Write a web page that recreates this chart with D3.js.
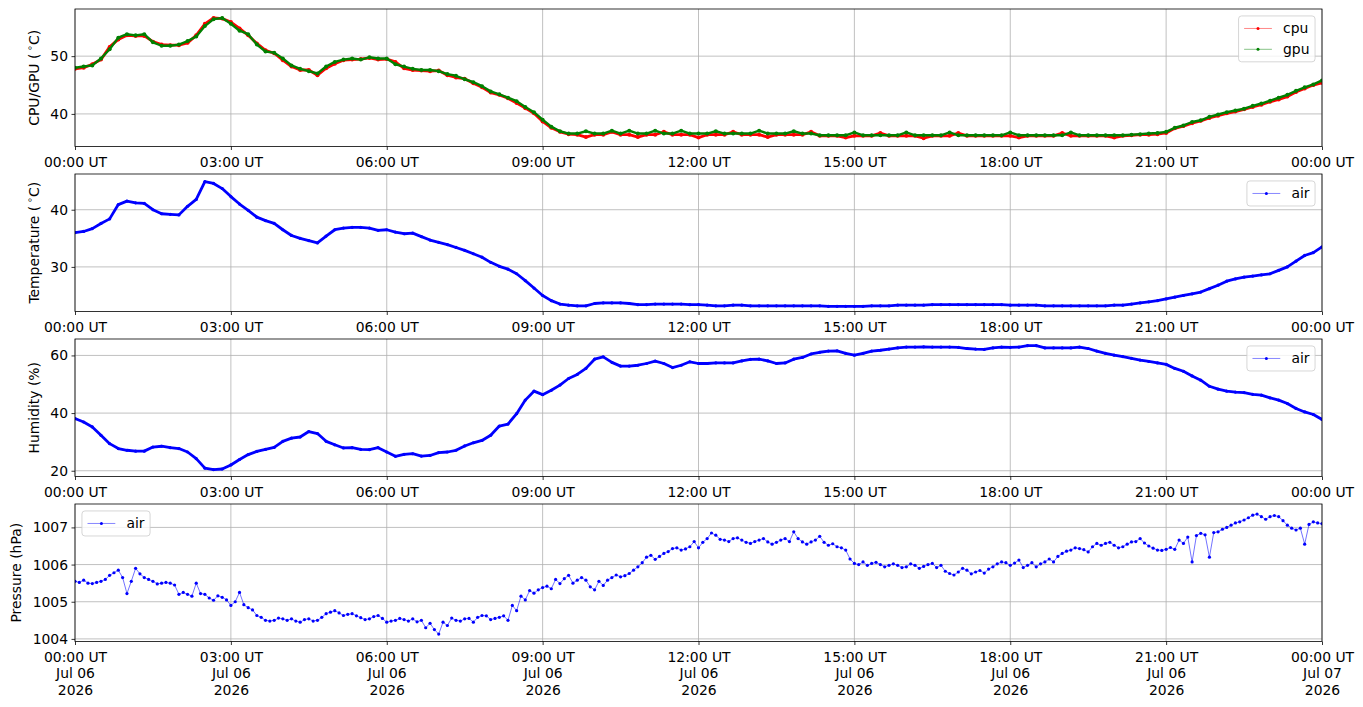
<!DOCTYPE html>
<html>
<head>
<meta charset="utf-8">
<title>sensor log</title>
<script src="https://d3js.org/d3.v7.min.js"></script>
<style>
  body { margin: 0; overflow: hidden; background: #fff; }
  svg text { font-family: "DejaVu Sans", sans-serif; fill: #000; }
</style>
</head>
<body>
<svg></svg>
<script>
// one reading every 10 minutes, 06 Jul 2026 00:00 UT -> 07 Jul 2026 00:00 UT
const startTime = Date.UTC(2026, 6, 6, 0, 0);
const endTime = Date.UTC(2026, 6, 7, 0, 0);
const stepMinutes = 10;

const cpuTemp = [
  47.8, 48.0, 48.6, 49.4, 51.6, 52.9, 53.6, 53.5, 53.5, 52.5,
  52.0, 51.9, 51.9, 52.3, 53.6, 55.6, 56.6, 56.5, 55.9, 54.8,
  53.6, 52.2, 51.0, 50.5, 49.3, 48.2, 47.6, 47.6, 46.7, 47.9,
  48.7, 49.3, 49.4, 49.5, 49.7, 49.4, 49.5, 49.0, 47.9, 47.6,
  47.5, 47.4, 47.5, 46.7, 46.3, 46.1, 45.3, 44.6, 43.7, 43.3,
  42.7, 41.9, 41.0, 40.1, 38.7, 37.6, 36.9,
  36.5, 36.4, 36.0, 36.4, 36.4, 36.9, 36.4, 36.4, 36.0, 36.4,
  36.4, 36.9, 36.4, 36.4, 36.4, 35.9, 36.4, 36.4, 36.4, 36.9,
  36.4, 36.4, 36.4, 36.0, 36.4, 36.4, 36.4, 36.4, 36.9, 36.2,
  36.2, 36.2, 35.9, 36.2, 36.2, 36.2, 36.7, 36.2, 36.2, 36.2,
  36.2, 35.8, 36.2, 36.2, 36.2, 36.7, 36.2, 36.2, 36.2, 36.2,
  36.2, 36.2, 35.9, 36.2, 36.2, 36.2, 36.2, 36.7, 36.2, 36.2,
  36.2, 36.2, 36.2, 35.9, 36.2, 36.3, 36.4, 36.4, 36.5,
  36.7, 37.5, 37.9, 38.4, 38.8, 39.3, 39.7, 40.1, 40.4, 40.8,
  41.2, 41.6, 42.1, 42.5, 43.0, 43.8, 44.4, 45.0, 45.4
];
const gpuTemp = [
  48.0, 48.2, 48.4, 49.6, 51.2, 53.2, 53.8, 53.6, 53.8, 52.4,
  51.8, 51.8, 52.0, 52.6, 53.4, 55.2, 56.4, 56.6, 55.6, 54.4,
  53.8, 52.0, 50.8, 50.6, 49.6, 48.4, 47.8, 47.4, 47.0, 48.2,
  49.0, 49.4, 49.6, 49.4, 49.8, 49.6, 49.6, 48.6, 48.2, 47.8,
  47.6, 47.6, 47.4, 46.9, 46.6, 46.0, 45.5, 44.8, 43.9, 43.4,
  42.8, 42.2, 41.2, 40.3, 39.0, 37.8, 37.0,
  36.6, 36.6, 37.0, 36.6, 36.6, 37.1, 36.6, 37.1, 36.6, 36.6,
  37.1, 36.6, 36.6, 37.1, 36.6, 36.6, 36.6, 37.0, 36.6, 36.6,
  36.6, 36.6, 37.1, 36.6, 36.6, 36.6, 37.0, 36.6, 36.6, 36.3,
  36.3, 36.3, 36.3, 36.8, 36.3, 36.3, 36.3, 36.3, 36.3, 36.8,
  36.3, 36.3, 36.3, 36.3, 36.8, 36.3, 36.3, 36.3, 36.3, 36.3,
  36.3, 36.8, 36.3, 36.3, 36.3, 36.3, 36.3, 36.3, 36.8, 36.3,
  36.3, 36.3, 36.3, 36.3, 36.3, 36.4, 36.5, 36.6, 36.7,
  36.9, 37.6, 38.0, 38.6, 38.9, 39.5, 39.9, 40.3, 40.6, 40.9,
  41.4, 41.8, 42.3, 42.8, 43.3, 44.0, 44.6, 45.1, 45.8
];
const airTemp = [
  36.0, 36.2, 36.7, 37.6, 38.4, 40.9, 41.5, 41.2, 41.1, 40.0,
  39.3, 39.2, 39.1, 40.6, 41.8, 44.9,
  44.6, 43.7, 42.3, 41.0, 39.9, 38.7, 38.1, 37.6, 36.5, 35.5,
  35.0, 34.6, 34.2, 35.4, 36.5, 36.8, 36.9, 36.9, 36.8, 36.4,
  36.5, 36.1, 35.8, 35.9, 35.3, 34.7, 34.3, 33.9, 33.4, 32.9,
  32.3, 31.7, 30.8, 30.1, 29.6, 28.8, 27.6, 26.3, 25.0, 24.1, 23.5,
  23.3, 23.2, 23.2, 23.6, 23.7, 23.7, 23.7, 23.6, 23.4, 23.4,
  23.5, 23.5, 23.5, 23.5, 23.4, 23.4, 23.3, 23.2, 23.2, 23.3,
  23.3, 23.2, 23.2, 23.2, 23.2, 23.2, 23.2, 23.2, 23.2, 23.2,
  23.1, 23.1, 23.1, 23.1, 23.1, 23.2, 23.2, 23.2, 23.3, 23.3,
  23.3, 23.3, 23.4, 23.4, 23.4, 23.4, 23.4, 23.4, 23.4, 23.4,
  23.4, 23.3, 23.3, 23.3, 23.3, 23.2, 23.2, 23.2, 23.2, 23.2,
  23.2, 23.2, 23.2, 23.3, 23.3, 23.5, 23.7, 23.9, 24.1,
  24.4, 24.7, 25.0, 25.3, 25.6, 26.2, 26.8, 27.5, 27.9, 28.2,
  28.4, 28.6, 28.8, 29.4, 30.0, 31.0, 32.0, 32.5, 33.5
];
const airHumidity = [
  38.1, 36.9, 35.2, 32.3, 29.4, 27.7, 27.1, 26.8, 26.8, 28.2,
  28.5, 28.0, 27.7, 26.5, 24.2, 20.9, 20.4, 20.6, 22.0,
  23.9, 25.6, 26.7, 27.4, 28.1, 30.2, 31.3, 31.7, 33.6, 32.9,
  30.2, 29.0, 27.9, 28.0, 27.4, 27.3, 28.0, 26.5, 25.0, 25.7,
  25.9, 25.1, 25.3, 26.3, 26.5, 27.1, 28.6, 29.7, 30.5, 32.3,
  35.5, 36.2, 39.8, 44.5, 47.6, 46.4, 47.9, 49.7,
  52.0, 53.4, 55.5, 58.7, 59.5, 57.6, 56.3, 56.3, 56.6, 57.2,
  58.0, 57.2, 55.8, 56.6, 57.8, 57.2, 57.2, 57.4, 57.4, 57.4,
  58.1, 58.6,
  58.7, 58.1, 57.2, 57.4, 58.7, 59.3, 60.5, 61.1, 61.5, 61.6,
  60.7, 60.1, 60.7, 61.5, 61.8, 62.2, 62.6, 62.9,
  62.9, 63.0, 62.9, 62.9, 62.9, 62.8, 62.4, 62.2, 62.1, 62.6,
  62.9, 62.8, 62.9, 63.4, 63.4, 62.6, 62.6, 62.6, 62.6, 62.9, 62.4,
  61.5, 60.7, 60.1, 59.6, 59.0, 58.4, 57.9, 57.4, 56.9, 55.5,
  54.5, 52.9, 51.4, 49.3, 48.3, 47.6, 47.3, 47.1, 46.5, 46.2,
  45.3, 44.5, 43.3, 41.6, 40.4, 39.5, 37.8
];
// pressure is logged twice as often: on the ten-minute marks and five minutes past them
const airPressure = [
  1005.55, 1005.58, 1005.49, 1005.55, 1005.71, 1005.85, 1005.22, 1005.90, 1005.65, 1005.55,
  1005.50, 1005.50, 1005.20, 1005.20, 1005.50, 1005.20, 1005.04, 1005.12, 1004.90, 1005.25,
  1004.84, 1004.63, 1004.50, 1004.50, 1004.54, 1004.54, 1004.45, 1004.54, 1004.50, 1004.68,
  1004.76, 1004.63, 1004.68, 1004.57, 1004.54, 1004.63, 1004.45,
  1004.50, 1004.52, 1004.54, 1004.50, 1004.42, 1004.13, 1004.36, 1004.50, 1004.54, 1004.45,
  1004.63, 1004.52, 1004.58, 1004.50, 1004.76, 1005.05, 1005.23, 1005.38, 1005.35, 1005.49,
  1005.71, 1005.58, 1005.58, 1005.32, 1005.44, 1005.65, 1005.67, 1005.76, 1005.94, 1006.20,
  1006.14, 1006.30, 1006.43, 1006.39, 1006.48, 1006.45, 1006.70, 1006.79, 1006.66, 1006.70,
  1006.66, 1006.57, 1006.66, 1006.61, 1006.60, 1006.70, 1006.88, 1006.61, 1006.61, 1006.76,
  1006.52, 1006.48, 1006.39,
  1006.03, 1006.07, 1006.03, 1006.00, 1005.98, 1005.98, 1005.94, 1005.98, 1005.95, 1006.03,
  1005.98, 1005.76, 1005.80, 1005.85, 1005.80, 1005.77, 1005.94, 1006.07, 1005.98, 1006.12,
  1005.98, 1005.94, 1006.07, 1006.07, 1006.30, 1006.39, 1006.43, 1006.34, 1006.57, 1006.57,
  1006.52, 1006.48, 1006.61,
  1006.70, 1006.50, 1006.39, 1006.41, 1006.41, 1006.57, 1006.07, 1006.84, 1006.20, 1006.88,
  1007.00, 1007.12, 1007.20, 1007.33, 1007.29, 1007.29, 1007.29, 1007.06, 1006.93, 1006.55,
  1007.15, 1007.10
];
const airPressureHalf = [
  1005.52, 1005.50, 1005.52, 1005.60, 1005.78, 1005.65, 1005.55, 1005.75, 1005.60, 1005.48,
  1005.52, 1005.45, 1005.25, 1005.15, 1005.22, 1005.10, 1005.16, 1005.05, 1005.00, 1004.92,
  1004.78, 1004.58, 1004.48, 1004.56, 1004.50, 1004.48, 1004.52, 1004.48, 1004.58, 1004.72,
  1004.70, 1004.66, 1004.62, 1004.52, 1004.60, 1004.55,
  1004.48, 1004.55, 1004.48, 1004.46, 1004.30, 1004.25, 1004.45, 1004.56, 1004.48, 1004.55,
  1004.58, 1004.62, 1004.55, 1004.62, 1004.90, 1005.15, 1005.30, 1005.32, 1005.42, 1005.60,
  1005.62, 1005.50, 1005.65, 1005.40, 1005.55, 1005.58, 1005.72, 1005.70, 1005.85, 1006.05,
  1006.25, 1006.22, 1006.35, 1006.45, 1006.42, 1006.62, 1006.60, 1006.85, 1006.68, 1006.62,
  1006.72, 1006.60, 1006.62, 1006.70, 1006.55, 1006.66, 1006.62, 1006.70, 1006.55, 1006.66,
  1006.60, 1006.56, 1006.45, 1006.15,
  1006.00, 1005.98, 1006.06, 1005.94, 1006.02, 1005.92, 1006.02, 1005.90, 1006.00, 1005.92,
  1005.82, 1005.72, 1005.90, 1005.75, 1005.84, 1005.88, 1006.02, 1006.05, 1006.04, 1005.92,
  1006.05, 1006.02, 1006.15, 1006.22, 1006.36, 1006.45, 1006.40, 1006.48, 1006.52, 1006.60,
  1006.45, 1006.55, 1006.62, 1006.58, 1006.44, 1006.38, 1006.46, 1006.66, 1006.74, 1006.78,
  1006.80, 1006.86, 1006.95, 1007.06, 1007.15, 1007.26, 1007.36, 1007.22, 1007.32, 1007.18,
  1006.98, 1006.98, 1007.08, 1007.12
];

const cpuTicks = [40, 50];
const tempTicks = [30, 40];
const humidityTicks = [20, 40, 60];
const pressureTicks = [1004, 1005, 1006, 1007];

const minute = 60000;
const times = cpuTemp.map((_, i) => new Date(startTime + i * stepMinutes * minute));
const toPoints = vals => vals.map((v, i) => [times[i], v]);
const pressurePoints = toPoints(airPressure)
  .concat(airPressureHalf.map((v, i) => [new Date(+times[i] + stepMinutes / 2 * minute), v]))
  .sort((a, b) => a[0] - b[0]);

const width = 1363, height = 707;
const left = 75, right = 1322, panelH = 137.5;
const fontSize = 13.9;

const svg = d3.select("svg").attr("width", width).attr("height", height);

const x = d3.scaleUtc().domain([new Date(startTime), new Date(endTime)]).range([left, right]);
const xTicks = d3.utcHour.every(3).range(new Date(startTime), new Date(endTime + 1));
const fmtTime = d3.utcFormat("%H:%M UT");
const fmtDay = d3.utcFormat("%b %d");
const fmtYear = d3.utcFormat("%Y");

const panels = [
  { top: 9, label: "CPU/GPU (°C)", labelX: 34, domain: [34.36, 58.16], ticks: cpuTicks, legend: "right",
    series: [
      { name: "cpu", points: toPoints(cpuTemp), color: "#ff0000", lw: 2.8, r: 2.0 },
      { name: "gpu", points: toPoints(gpuTemp), color: "#008000", lw: 2.4, r: 2.0 }
    ] },
  { top: 174, label: "Temperature (°C)", labelX: 34, domain: [22.2, 46.25], ticks: tempTicks, legend: "right",
    series: [{ name: "air", points: toPoints(airTemp), color: "#0000ff", lw: 2.8, r: 1.6 }] },
  { top: 339, label: "Humidity (%)", labelX: 34, domain: [18.0, 65.7], ticks: humidityTicks, legend: "right",
    series: [{ name: "air", points: toPoints(airHumidity), color: "#0000ff", lw: 2.8, r: 1.6 }] },
  { top: 504, label: "Pressure (hPa)", labelX: 16, domain: [1003.93, 1007.63], ticks: pressureTicks, legend: "left",
    bottom: true,
    series: [{ name: "air", points: pressurePoints, color: "#0000ff", lw: 0.8, r: 1.6, opacity: 0.7 }] }
];

panels.forEach((p, pi) => {
  const y0 = p.top, y1 = p.top + panelH;
  const y = d3.scaleLinear().domain(p.domain).range([y1, y0]);
  const g = svg.append("g");

  g.append("clipPath").attr("id", "clip" + pi)
    .append("rect").attr("x", left).attr("y", y0).attr("width", right - left).attr("height", panelH);

  // grid
  g.append("g").selectAll("line").data(xTicks).join("line")
    .attr("x1", d => x(d)).attr("x2", d => x(d)).attr("y1", y0).attr("y2", y1)
    .attr("stroke", "#b0b0b0").attr("stroke-width", 0.8);
  g.append("g").selectAll("line").data(p.ticks).join("line")
    .attr("x1", left).attr("x2", right).attr("y1", d => y(d)).attr("y2", d => y(d))
    .attr("stroke", "#b0b0b0").attr("stroke-width", 0.8);

  // data
  const plot = g.append("g").attr("clip-path", `url(#clip${pi})`);
  p.series.forEach(s => {
    plot.append("path").datum(s.points)
      .attr("fill", "none").attr("stroke", s.color).attr("stroke-width", s.lw)
      .attr("stroke-opacity", s.opacity || 1).attr("stroke-linejoin", "round")
      .attr("d", d3.line().x(d => x(d[0])).y(d => y(d[1])));
    plot.append("g").selectAll("circle").data(s.points).join("circle")
      .attr("cx", d => x(d[0])).attr("cy", d => y(d[1])).attr("r", s.r)
      .attr("fill", s.color);
  });

  // axes
  const xAxis = g.append("g").attr("transform", `translate(0,${y1})`)
    .call(d3.axisBottom(x).tickValues(xTicks).tickSize(3.5).tickPadding(7).tickSizeOuter(0));
  xAxis.select(".domain").remove();
  xAxis.selectAll(".tick line").attr("stroke", "#000").attr("stroke-width", 0.8);
  xAxis.selectAll(".tick text").each(function (d) {
    const t = d3.select(this).attr("dy", null).attr("font-size", fontSize).attr("fill", "#000").text("");
    const lines = p.bottom ? [fmtTime(d), fmtDay(d), fmtYear(d)] : [fmtTime(d)];
    lines.forEach((s, k) => t.append("tspan").attr("x", 0).attr("dy", k ? "1.19em" : "0.71em").text(s));
  });

  const yAxis = g.append("g").attr("transform", `translate(${left},0)`)
    .call(d3.axisLeft(y).tickValues(p.ticks).tickFormat(d3.format("d"))
      .tickSize(3.5).tickPadding(3.5).tickSizeOuter(0));
  yAxis.select(".domain").remove();
  yAxis.selectAll(".tick line").attr("stroke", "#000").attr("stroke-width", 0.8);
  yAxis.selectAll(".tick text").attr("font-size", fontSize).attr("fill", "#000");

  // spines
  g.append("rect").attr("x", left).attr("y", y0).attr("width", right - left).attr("height", panelH)
    .attr("fill", "none").attr("stroke", "#000").attr("stroke-width", 0.8);

  // y label, degree drawn as a raised ring like mathtext
  const lab = g.append("text")
    .attr("transform", `translate(${p.labelX},${(y0 + y1) / 2}) rotate(-90)`)
    .attr("text-anchor", "middle").attr("dominant-baseline", "central")
    .attr("font-size", fontSize);
  const parts = p.label.split("°");
  lab.append("tspan").text(parts[0] + (parts.length > 1 ? "\u2009" : ""));
  if (parts.length > 1) {
    lab.append("tspan").attr("font-size", 9.5).attr("dy", -5).text("\u2218");
    lab.append("tspan").attr("dy", 5).text(parts[1]);
  }

  // legend
  const pad = 0.4 * fontSize, handle = 2 * fontSize, gap = 0.8 * fontSize, rowH = 1.5 * fontSize;
  const leg = g.append("g");
  const box = leg.append("rect");
  const labels = p.series.map(s => leg.append("text").attr("font-size", fontSize)
    .attr("dominant-baseline", "central").text(s.name));
  const textW = d3.max(labels, t => t.node().getComputedTextLength());
  const boxW = 2 * pad + handle + gap + textW;
  const boxH = 2 * pad + p.series.length * fontSize + (p.series.length - 1) * 0.5 * fontSize;
  const bx = p.legend === "right" ? right - 0.5 * fontSize - boxW : left + 0.5 * fontSize;
  const by = y0 + 0.5 * fontSize;
  box.attr("x", bx).attr("y", by).attr("width", boxW).attr("height", boxH).attr("rx", 3)
    .attr("fill", "#fff").attr("fill-opacity", 0.8).attr("stroke", "#cccccc").attr("stroke-width", 0.8);
  p.series.forEach((s, k) => {
    const cy = by + pad + fontSize / 2 + k * rowH;
    leg.append("line").attr("x1", bx + pad).attr("x2", bx + pad + handle).attr("y1", cy).attr("y2", cy)
      .attr("stroke", s.color).attr("stroke-width", 0.8).attr("stroke-opacity", 0.6);
    leg.append("circle").attr("cx", bx + pad + handle / 2).attr("cy", cy).attr("r", 1.5).attr("fill", s.color);
    labels[k].attr("x", bx + pad + handle + gap).attr("y", cy);
  });
});
</script>
</body>
</html>
